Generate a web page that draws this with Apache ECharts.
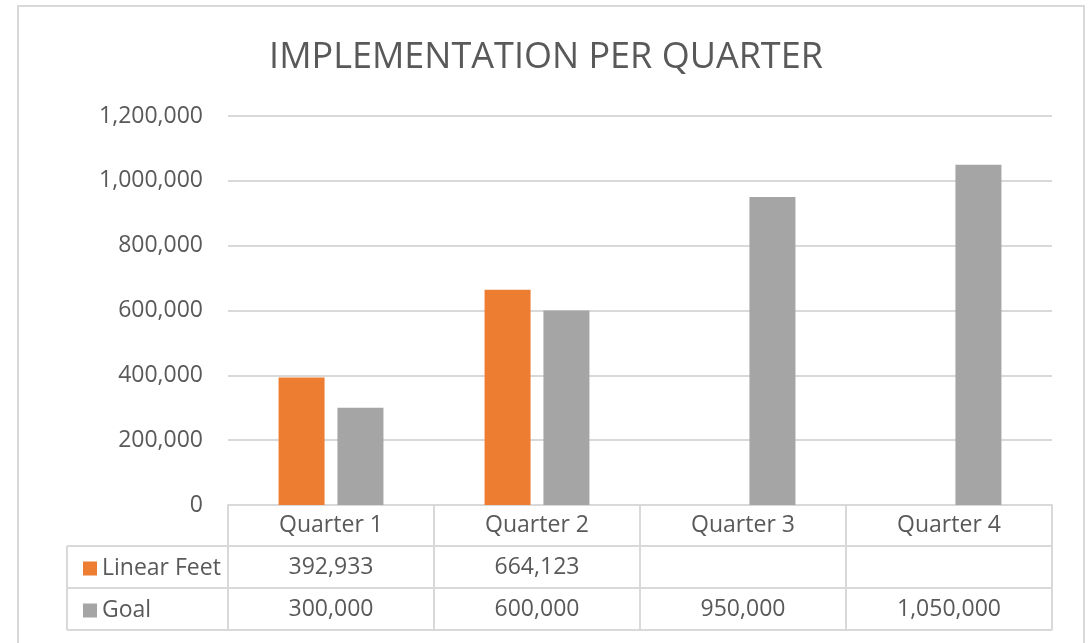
<!DOCTYPE html>
<html>
<head>
<meta charset="utf-8">
<script src="https://cdn.jsdelivr.net/npm/echarts@6/dist/echarts.min.js"></script>
<style>
  html, body { margin: 0; padding: 0; background: #fff; }
  #main { width: 1092px; height: 643px; }
</style>
</head>
<body>
<div id="main"></div>
<script>
var quarters = ['Quarter 1', 'Quarter 2', 'Quarter 3', 'Quarter 4'];
var linearFeet = [392933, 664123, null, null];
var goal = [300000, 600000, 950000, 1050000];
var seriesNames = ['Linear Feet', 'Goal'];

var textColor = '#595959';
var lineColor = '#d9d9d9';
var font = 'Open Sans';

function fmt(v) {
    if (v === null || v === undefined) return '';
    return v.toLocaleString('en-US');
}

var myChart = echarts.init(document.getElementById('main'));

// value rows of the data table are extra category axes under the plot
function rowAxis(values, offset) {
    return {
        type: 'category',
        position: 'bottom',
        offset: offset,
        data: values.map(fmt),
        axisLine: { show: false },
        axisTick: { show: false },
        axisLabel: {
            interval: 0, margin: 9, fontSize: 23, lineHeight: 23,
            color: textColor, fontFamily: font
        }
    };
}

var option = {
    animation: false,
    backgroundColor: '#fff',
    textStyle: { fontFamily: font },
    title: {
        text: 'IMPLEMENTATION PER QUARTER',
        left: 'center',
        top: 35,
        textStyle: { fontSize: 36, fontWeight: 'normal', color: textColor, fontFamily: font }
    },
    legend: {
        orient: 'vertical',
        left: 78,
        top: 552,
        icon: 'rect',
        itemWidth: 14,
        itemHeight: 14,
        itemGap: 19,
        data: seriesNames,
        textStyle: { fontSize: 23, lineHeight: 23, color: textColor, fontFamily: font }
    },
    grid: { left: 228, right: 40, top: 116, bottom: 138, containLabel: false },
    xAxis: [
        {
            type: 'category',
            position: 'bottom',
            data: quarters,
            axisLine: { show: true, lineStyle: { color: lineColor, width: 2 } },
            axisTick: { show: true, interval: 0, length: 125, lineStyle: { color: lineColor, width: 2 } },
            axisLabel: {
                interval: 0, margin: 9, fontSize: 23, lineHeight: 23,
                color: textColor, fontFamily: font
            }
        },
        rowAxis(linearFeet, 42),
        rowAxis(goal, 84)
    ],
    yAxis: {
        type: 'value',
        min: 0,
        max: 1200000,
        interval: 200000,
        axisLine: { show: false },
        axisTick: { show: false },
        splitLine: { lineStyle: { color: lineColor, width: 2 } },
        axisLabel: {
            margin: 25, fontSize: 23, color: textColor, fontFamily: font,
            formatter: function (v) { return fmt(v); }
        }
    },
    series: [
        {
            name: seriesNames[0],
            type: 'bar',
            data: linearFeet,
            barWidth: 46,
            barGap: '28%',
            itemStyle: { color: '#ED7D31' }
        },
        {
            name: seriesNames[1],
            type: 'bar',
            data: goal,
            barWidth: 46,
            itemStyle: { color: '#A5A5A5' }
        }
    ],
    graphic: [
        // chart frame
        { type: 'rect', shape: { x: 18, y: 6, width: 1066, height: 700 },
          style: { fill: 'none', stroke: lineColor, lineWidth: 2 }, silent: true },
        // data table horizontal rules + left column
        { type: 'line', shape: { x1: 67, y1: 546, x2: 1052, y2: 546 }, style: { stroke: lineColor, lineWidth: 2 } },
        { type: 'line', shape: { x1: 67, y1: 588, x2: 1052, y2: 588 }, style: { stroke: lineColor, lineWidth: 2 } },
        { type: 'line', shape: { x1: 67, y1: 630, x2: 1052, y2: 630 }, style: { stroke: lineColor, lineWidth: 2 } },
        { type: 'line', shape: { x1: 67, y1: 546, x2: 67, y2: 630 }, style: { stroke: lineColor, lineWidth: 2 } }
    ]
};

option && myChart.setOption(option);
</script>
</body>
</html>
